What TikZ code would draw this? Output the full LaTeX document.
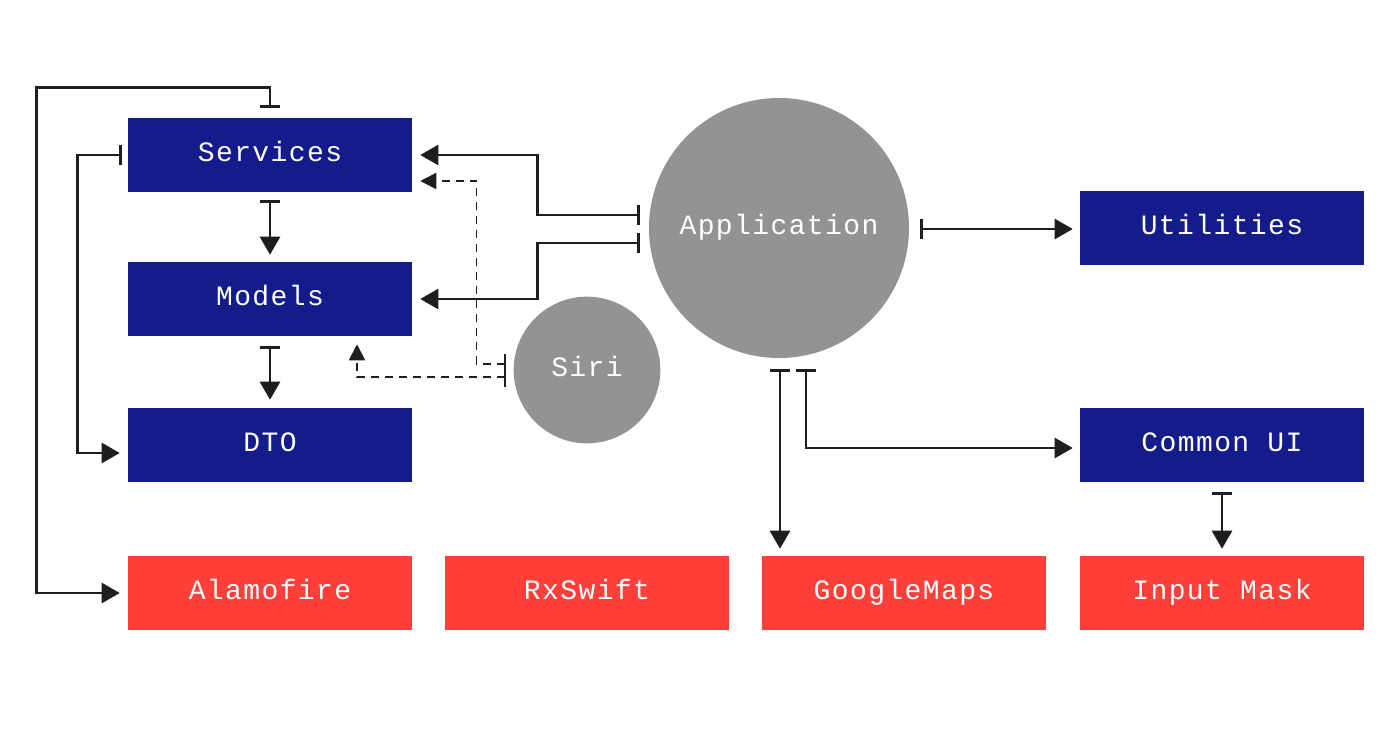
\documentclass[tikz,border=0pt]{standalone}
\usepackage{fontspec}
\setmonofont[LetterSpace=5]{Liberation Mono}
\usetikzlibrary{arrows.meta,calc}
\definecolor{dblue}{RGB}{20,28,140}
\definecolor{lred}{RGB}{255,64,58}
\definecolor{cgray}{RGB}{147,147,147}
\definecolor{lnk}{RGB}{30,30,30}
\tikzset{
  lbl/.style={text=white,font=\ttfamily\fontsize{21}{24}\selectfont,text height=12pt,text depth=3pt},
  box/.style={rectangle,inner sep=0pt,minimum width=213pt,minimum height=55.5pt,lbl},
  bluebox/.style={box,fill=dblue},
  redbox/.style={box,fill=lred},
  circ/.style={circle,fill=cgray,inner sep=0pt,lbl},
  link/.style={draw=lnk,line width=2pt,{Bar[width=15pt,line width=2pt]}-{Triangle[length=13.5pt,width=15pt]}},
  dlink/.style={link,line width=1.3pt,dash pattern=on 6pt off 4.5pt,{Bar[width=15pt,line width=1.6pt,sep=0pt]}-{Triangle[length=12pt,width=12pt]}}
}
\begin{document}
\begin{tikzpicture}[x=0.75pt,y=-0.75pt]
\useasboundingbox (0,0) rectangle (1400,736);
\fill[white] (0,0) rectangle (1400,736);
% nodes
\node[bluebox] (serv) at (270,155) {Services};
\node[bluebox] (mod) at (270,299) {Models};
\node[bluebox] (dto) at (270,445) {DTO};
\node[redbox] (alamo) at (270,593) {Alamofire};
\node[redbox] (rx) at (587,593) {RxSwift};
\node[redbox] (gmaps) at (904,593) {GoogleMaps};
\node[redbox] (imask) at (1222,593) {Input Mask};
\node[bluebox] (util) at (1222,228) {Utilities};
\node[bluebox] (cui) at (1222,445) {Common UI};
\node[circ,minimum size=195pt] (app) at (779,228) {Application};
\node[circ,minimum size=110pt] (siri) at (587,370) {Siri};
% connectors
\draw[link] ($(serv.north)+(0,-10)$) -- ++(0,-20) -| ($(alamo.west)+(-91,0)$) -- ($(alamo.west)+(-8,0)$);
\draw[link] ($(serv.west)+(-6,0)$) -- ++(-44,0) |- ($(dto.west)+(-8,8)$);
\draw[link] ($(serv.south)+(0,8)$) -- ($(mod.north)+(0,-7)$);
\draw[link] ($(mod.south)+(0,10)$) -- ($(dto.north)+(0,-8)$);
\draw[link] ($(app.west)+(-9,-13)$) -- ++(-102,0) |- ($(serv.east)+(8,0)$);
\draw[link] ($(app.west)+(-9,15)$) -- ++(-102,0) |- ($(mod.east)+(8,0)$);
\draw[dlink] ($(siri.west)+(-7,-6)$) -- ++(-30,0) |- ($(serv.east)+(8,26)$);
\draw[dlink] ($(siri.west)+(-7,7)$) -| ($(mod.south)+(87,8)$);
\draw[link] ($(app.east)+(11,1)$) -- ($(util.west)+(-7,1)$);
\draw[link] ($(app.south)+(1,11)$) -- ($(gmaps.north)+(-124,-7)$);
\draw[link] ($(app.south)+(27,11)$) |- ($(cui.west)+(-7,3)$);
\draw[link] ($(cui.south)+(0,10)$) -- ($(imask.north)+(0,-7)$);
\end{tikzpicture}
\end{document}
